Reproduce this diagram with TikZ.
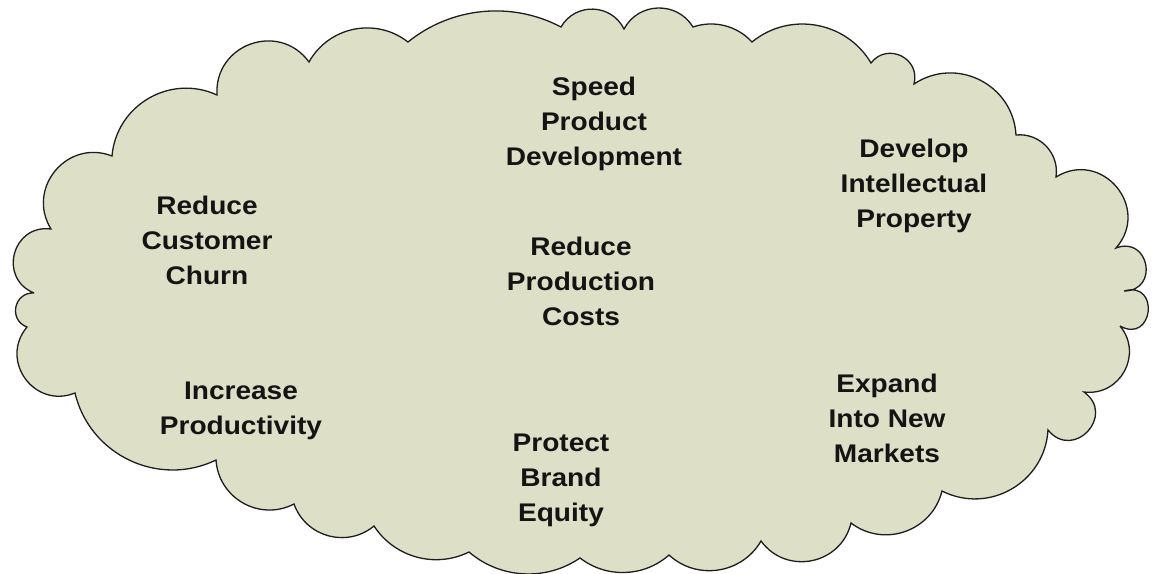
\documentclass[tikz,border=0pt]{standalone}
\usepackage{fontspec}
\setmainfont{Liberation Sans}
\newfontfamily\goalfont{Liberation Sans}[FakeStretch=1.1]
\usepackage{tikz}
\definecolor{cCloud}{RGB}{221,223,199}
\definecolor{cEdge}{RGB}{30,30,30}
\definecolor{cText}{RGB}{20,20,20}
\tikzset{
  cloudline/.style={draw=cEdge, fill=cCloud, line width=1.3pt,
                    miter limit=4},
  % one lobe of the cloud: #1 = depth of the lobe / length of its chord
  bump/.code={\pgfmathsetmacro\bumpangle{2*atan(2*#1)}%
              \pgfmathsetmacro\bumploose{0.851*(1+4*#1*#1)}%
              \tikzset{bend left=\bumpangle, looseness=\bumploose}},
  goal/.style={align=center, text=cText, inner sep=0pt,
               font=\goalfont\bfseries\fontsize{25.5}{35}\selectfont}
}

\begin{document}
\begin{tikzpicture}[x=1pt, y=-1pt]

  \useasboundingbox (0,0) rectangle (1154,573);

  % ── Cusps of the cloud outline, clockwise from the left ──
  \coordinate (c1)  at (34,293);
  \coordinate (c2)  at (51,229);
  \coordinate (c3)  at (112,156);
  \coordinate (c4)  at (217,95);
  \coordinate (c5)  at (309,62);
  \coordinate (c6)  at (408,42);
  \coordinate (c7)  at (561,27);
  \coordinate (c8)  at (624,29);
  \coordinate (c9)  at (693,27);
  \coordinate (c10) at (752,42);
  \coordinate (c11) at (871,63);
  \coordinate (c12) at (914,84);
  \coordinate (c13) at (1016,135);
  \coordinate (c14) at (1056,177);
  \coordinate (c15) at (1116,248);
  \coordinate (c16) at (1124,291);
  \coordinate (c17) at (1120,326);
  \coordinate (c18) at (1084,392);
  \coordinate (c19) at (1048,430);
  \coordinate (c20) at (942,491);
  \coordinate (c21) at (851,523);
  \coordinate (c22) at (761,541);
  \coordinate (c23) at (669,555);
  \coordinate (c24) at (580,558);
  \coordinate (c25) at (469,552);
  \coordinate (c26) at (374,526);
  \coordinate (c27) at (294,504);
  \coordinate (c28) at (216,460);
  \coordinate (c29) at (75,393);
  \coordinate (c30) at (27,327);

  % ── Cloud ──
  \path[cloudline] (c1)
    \foreach \i/\r in {2/.44, 3/.36, 4/.26, 5/.375, 6/.23, 7/.15, 8/.3,
                       9/.29, 10/.15, 11/.23, 12/.41, 13/.29, 14/.245,
                       15/.43, 16/.6, 17/.75, 18/.34, 19/.57, 20/.27,
                       21/.27, 22/.32, 23/.24, 24/.18, 25/.17, 26/.19,
                       27/.26, 28/.27, 29/.24, 30/.39, 1/.43}
      { to[bump=\r] (c\i) } -- cycle;

  % ── Goals ──
  \node[goal] (speed)   at (594,124) {Speed\\Product\\Development};
  \node[goal] (ip)      at (914,186) {Develop\\Intellectual\\Property};
  \node[goal] (churn)   at (207,240) {Reduce\\Customer\\Churn};
  \node[goal] (costs)   at (581,281) {Reduce\\Production\\Costs};
  \node[goal] (prod)    at (241,411) {Increase\\Productivity};
  \node[goal] (markets) at (887,418) {Expand\\Into New\\Markets};
  \node[goal] (brand)   at (561,480) {Protect\\Brand\\Equity};

\end{tikzpicture}
\end{document}
